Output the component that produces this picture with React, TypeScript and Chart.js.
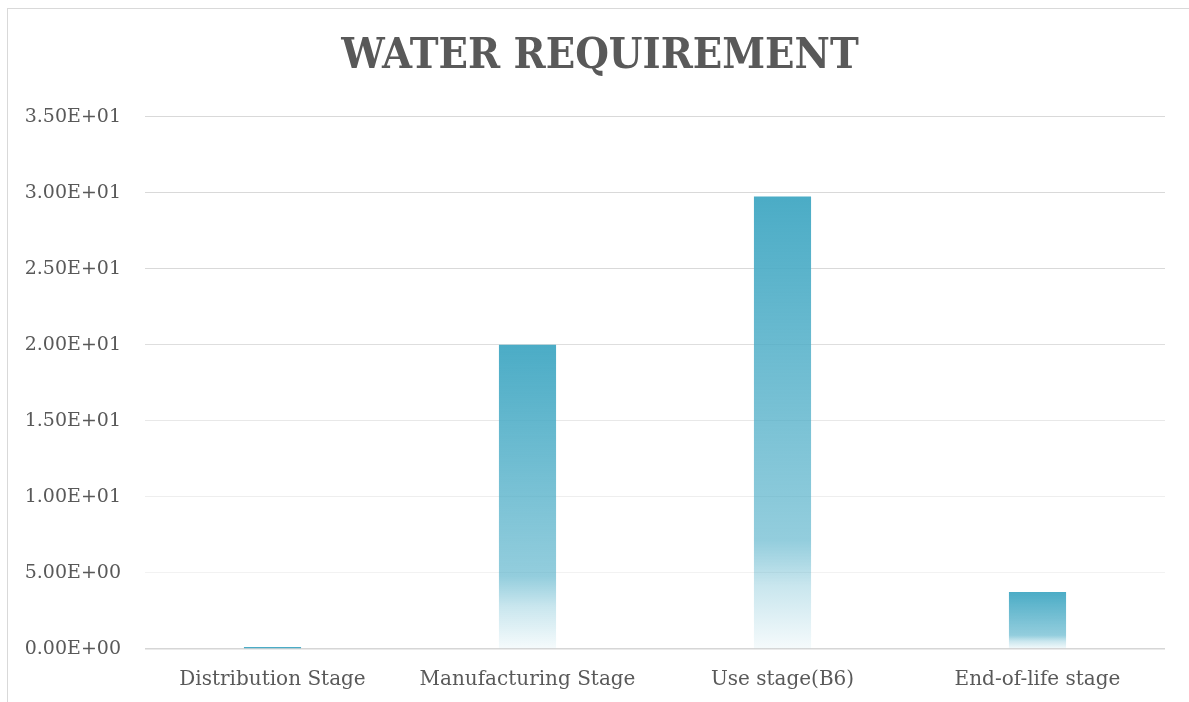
import React, { useEffect, useRef } from "react";
import { Chart, registerables } from "chart.js";

Chart.register(...registerables);

const categories = ["Distribution Stage", "Manufacturing Stage", "Use stage(B6)", "End-of-life stage"];
const waterValues = [0.13, 20.0, 29.75, 3.75];
const yTickLabels = ["0.00E+00", "5.00E+00", "1.00E+01", "1.50E+01", "2.00E+01", "2.50E+01", "3.00E+01", "3.50E+01"];
const chartTitle = "WATER REQUIREMENT";

const FONT = '"DejaVu Serif", "Liberation Serif", serif';
const TITLE_FONT = '"DejaVu Serif Condensed", "DejaVu Serif", serif';
const TEXT = "#595959";
const gridColors = ["#D6D6D6", "#F2F2F2", "#EEEEEE", "#E8E8E8", "#DEDEDE", "#D9D9D9", "#D9D9D9", "#D9D9D9"];

// centre the title over the whole framed chart rather than the padded area
const titleShift = {
  id: "titleShift",
  afterLayout(chart: any) {
    if (chart.titleBlock) chart.titleBlock.left = 35;
  },
};

export default function App() {
  const ref = useRef<HTMLCanvasElement | null>(null);
  useEffect(() => {
    if (!ref.current) return;
    const chart = new Chart(ref.current, {
      type: "bar",
      data: {
        labels: categories,
        datasets: [
          {
            label: "Water requirement",
            data: waterValues,
            backgroundColor: (ctx: any) => {
              const c = ctx.chart;
              const ys = c.scales && c.scales.y;
              if (!ys || ctx.raw == null) return "rgb(75,172,198)";
              const top = ys.getPixelForValue(ctx.raw);
              const base = ys.getPixelForValue(0);
              if (!isFinite(top) || !isFinite(base) || base - top < 4) return "rgb(75,172,198)";
              const g = c.ctx.createLinearGradient(0, top, 0, base);
              g.addColorStop(0, "rgba(75,172,198,1)");
              g.addColorStop(0.76, "rgba(75,172,198,0.6)");
              g.addColorStop(0.86, "rgba(75,172,198,0.3)");
              g.addColorStop(1, "rgba(75,172,198,0.05)");
              return g;
            },
            borderWidth: 0,
            categoryPercentage: 1,
            barPercentage: 0.224,
          },
        ],
      },
      plugins: [titleShift],
      options: {
        responsive: false,
        animation: false,
        layout: { padding: { left: 0, right: 24, top: 0, bottom: 0 } },
        plugins: {
          legend: { display: false },
          tooltip: { enabled: false },
          title: {
            display: true,
            text: chartTitle,
            color: TEXT,
            font: { family: TITLE_FONT, size: 43, weight: "bold" },
            padding: { top: 31, bottom: 34 },
          },
        },
        scales: {
          x: {
            afterFit: (s: any) => {
              s.height = 53;
            },
            grid: { display: false, drawTicks: false },
            border: { display: false },
            ticks: { color: TEXT, font: { family: FONT, size: 20 }, padding: 19, maxRotation: 0 },
          },
          y: {
            min: 0,
            max: 35,
            afterFit: (s: any) => {
              s.width = 145;
            },
            afterBuildTicks: (s: any) => {
              s.ticks = yTickLabels.map((_, i) => ({ value: i * 5 }));
            },
            grid: {
              drawTicks: false,
              color: (c: any) => gridColors[c.index] || "#D9D9D9",
              lineWidth: (c: any) => (c.index === 0 ? 1.5 : 1),
            },
            border: { display: false },
            ticks: {
              color: TEXT,
              font: { family: FONT, size: 19 },
              padding: 24,
              callback: (_v: any, i: number) => yTickLabels[i],
            },
          },
        },
      },
    });
    return () => chart.destroy();
  }, []);

  return (
    <div style={{ position: "fixed", left: 0, top: 0, width: 1189, height: 702, overflow: "hidden", background: "#fff" }}>
      <div
        style={{
          position: "absolute",
          left: 7,
          top: 8,
          width: 1400,
          height: 900,
          border: "1px solid #D9D9D9",
          boxSizing: "border-box",
        }}
      />
      <canvas ref={ref} width={1189} height={702} style={{ position: "absolute", left: 0, top: 0, display: "block" }} />
    </div>
  );
}
